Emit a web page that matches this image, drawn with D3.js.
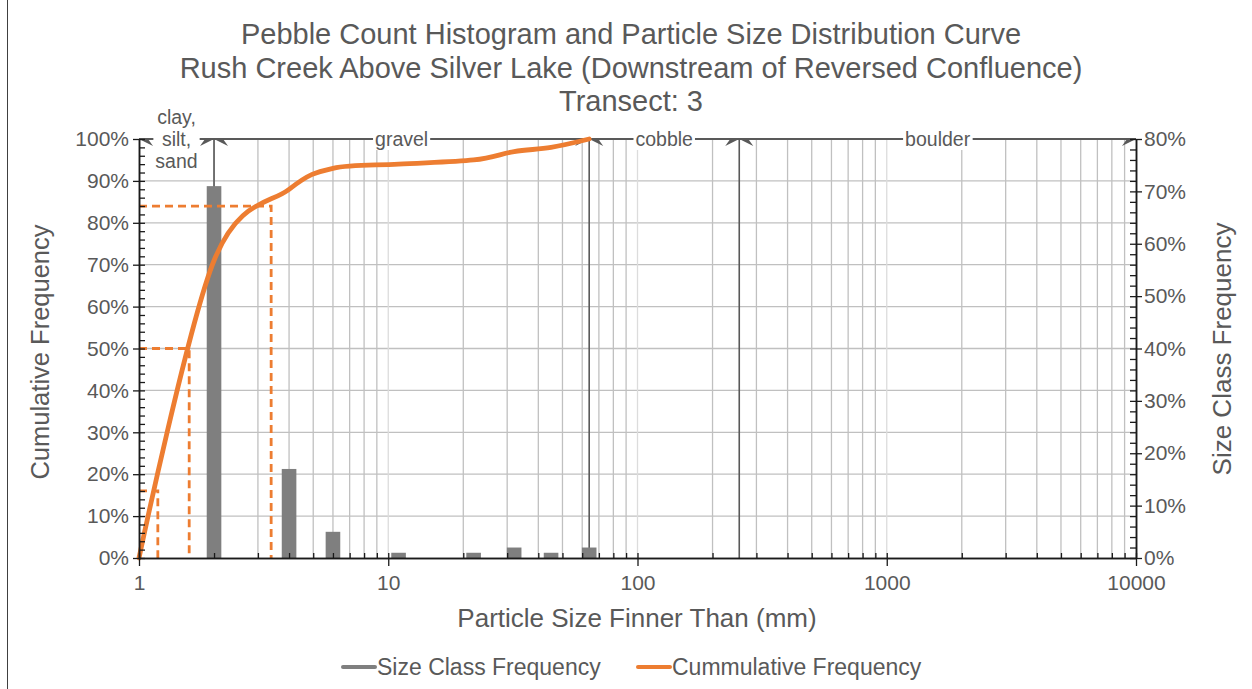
<!DOCTYPE html>
<html><head><meta charset="utf-8">
<script src="https://cdn.jsdelivr.net/npm/d3@7"></script>
<style>
body{margin:0;background:#fff}
svg{display:block;font-family:"Liberation Sans",Arial,sans-serif}
</style>
</head><body>
<svg id="chart" width="1252" height="689"></svg>
<script>
// ---- data ----
const titleLines = [
  "Pebble Count Histogram and Particle Size Distribution Curve",
  "Rush Creek Above Silver Lake (Downstream of Reversed Confluence)",
  "Transect: 3"
];
const sizeClasses = [2, 4, 6, 11, 22, 32, 45, 64];
const classFreq   = [0.71, 0.17, 0.05, 0.01, 0.01, 0.02, 0.01, 0.02];
const cumSizes    = [1, 2, 4, 6, 11, 22, 32, 45, 64];
const cumFreq     = [0, 0.71, 0.88, 0.93, 0.94, 0.95, 0.97, 0.98, 1.00];
const dPercent    = [0.16, 0.50, 0.84];
const dSize       = [1.19, 1.59, 3.39];
const classBounds = [1, 2, 64, 256, 10000];
const classNames  = [["clay,", "silt,", "sand"], ["gravel"], ["cobble"], ["boulder"]];
const xTickValues = [1, 10, 100, 1000, 10000];
const leftTickValues  = [0,0.1,0.2,0.3,0.4,0.5,0.6,0.7,0.8,0.9,1.0];
const rightTickValues = [0,0.1,0.2,0.3,0.4,0.5,0.6,0.7,0.8];
const legendNames = ["Size Class Frequency", "Cummulative Frequency"];
const xTitle = "Particle Size Finner Than (mm)";
const yLeftTitle = "Cumulative Frequency";
const yRightTitle = "Size Class Frequency";

// ---- layout ----
const L = 139, R = 1136, T = 139, B = 558;
const textCol = "#595959", orange = "#ED7D31", barCol = "#7f7f7f";
const svg = d3.select("#chart");

const x = d3.scaleLog().domain([1, 10000]).range([L, R]);
const yL = d3.scaleLinear().domain([0, 1]).range([B, T]);
const yR = d3.scaleLinear().domain([0, 0.8]).range([B, T]);

// border
svg.append("line").attr("x1", 7.5).attr("x2", 7.5).attr("y1", 0).attr("y2", 689)
  .attr("stroke", "#404040").attr("stroke-width", 1);

// title
svg.append("g").selectAll("text").data(titleLines).join("text")
  .attr("x", 631).attr("y", (d, i) => 44 + i * 33.5)
  .attr("text-anchor", "middle").attr("font-size", 29).attr("fill", textCol)
  .text(d => d);

// minor values for log grid
const minorVals = [];
for (let e = 0; e < 4; e++) for (let m = 1; m <= 9; m++) minorVals.push(m * Math.pow(10, e));
minorVals.push(10000);

// gridlines
const grid = svg.append("g");
grid.selectAll("line.h").data(leftTickValues.filter(v => v > 0 && v < 1)).join("line")
  .attr("x1", L).attr("x2", R).attr("y1", d => yL(d)).attr("y2", d => yL(d))
  .attr("stroke", "#c0c0c0").attr("stroke-width", 1.3);
grid.selectAll("line.v").data(minorVals.filter(v => v > 1 && v < 10000)).join("line")
  .attr("x1", d => x(d)).attr("x2", d => x(d)).attr("y1", T).attr("y2", B)
  .attr("stroke", d => xTickValues.includes(d) ? "#dcdcdc" : "#c0c0c0")
  .attr("stroke-width", 1.3);

// class dividers
svg.append("g").selectAll("line").data(classBounds.slice(1, -1)).join("line")
  .attr("x1", d => x(d)).attr("x2", d => x(d)).attr("y1", T).attr("y2", B)
  .attr("stroke", "#595959").attr("stroke-width", 1.6);

// bars
const bars = sizeClasses.map((s, i) => ({ s, v: classFreq[i] }));
svg.append("g").selectAll("rect").data(bars).join("rect")
  .attr("x", d => x(d.s) - 7.3).attr("width", 14.6)
  .attr("y", d => yR(d.v)).attr("height", d => B - yR(d.v))
  .attr("fill", barCol);

// top class line with arrows
const topG = svg.append("g");
topG.append("line").attr("x1", L).attr("x2", R).attr("y1", T).attr("y2", T)
  .attr("stroke", "#595959").attr("stroke-width", 1.8);
const arrowPts = [];
for (let i = 0; i < classBounds.length - 1; i++) {
  arrowPts.push({ x: x(classBounds[i]), dir: 1 });
  arrowPts.push({ x: x(classBounds[i + 1]), dir: -1 });
}
topG.selectAll("path").data(arrowPts).join("path")
  .attr("d", d => `M${d.x},${T} L${d.x + d.dir * 14},${T + 7} L${d.x + d.dir * 9},${T} Z`)
  .attr("fill", "#595959");

// class labels with white background
classNames.forEach((lines, i) => {
  const cx = x(Math.sqrt(classBounds[i] * classBounds[i + 1]));
  const g = svg.append("g");
  const lh = 21.6;
  const t = g.append("text").attr("text-anchor", "middle").attr("font-size", 19.5)
    .attr("fill", textCol);
  lines.forEach((ln, k) => {
    t.append("tspan").attr("x", cx)
      .attr("y", T + (k - (lines.length - 1) / 2) * lh + 7)
      .text(ln);
  });
  const bb = t.node().getBBox();
  g.insert("rect", "text").attr("x", bb.x - 2).attr("y", bb.y).attr("width", bb.width + 4)
    .attr("height", bb.height).attr("fill", "#fff");
});

// dashed D-lines
svg.append("g").selectAll("path").data(dPercent.map((p, i) => ({ p, s: dSize[i] }))).join("path")
  .attr("d", d => `M${x(1)},${yL(d.p)} H${x(d.s)} V${yL(0)}`)
  .attr("fill", "none").attr("stroke", orange).attr("stroke-width", 2.8)
  .attr("stroke-dasharray", "8,5");

// cumulative curve
const cumData = cumSizes.map((s, i) => ({ s, c: cumFreq[i] }));
svg.append("path").datum(cumData)
  .attr("d", d3.line().x(d => x(d.s)).y(d => yL(d.c)).curve(d3.curveCatmullRom.alpha(0)))
  .attr("fill", "none").attr("stroke", orange).attr("stroke-width", 4.8)
  .attr("stroke-linecap", "round").attr("stroke-linejoin", "round");

// axes
function styleAxis(g) {
  g.select(".domain").attr("stroke", "#1a1a1a").attr("stroke-width", 1.5);
  g.selectAll(".tick line").attr("stroke", "#1a1a1a").attr("stroke-width", 1.3);
  g.selectAll(".tick text").attr("fill", textCol).attr("font-size", 21)
    .attr("font-family", '"Liberation Sans",Arial,sans-serif');
}
const leftMinor = d3.range(0, 51).map(i => i * 0.02);
const rightMinor = d3.range(0, 41).map(i => i * 0.02);

// left axis
svg.append("g").attr("transform", `translate(${L},0)`)
  .call(d3.axisRight(yL).tickValues(leftMinor).tickSize(6).tickFormat("").tickSizeOuter(0))
  .call(styleAxis);
svg.append("g").attr("transform", `translate(${L},0)`)
  .call(d3.axisLeft(yL).tickValues(leftTickValues).tickSize(6).tickSizeOuter(0)
    .tickPadding(4).tickFormat(d3.format(".0%")))
  .call(styleAxis);

// right axis
svg.append("g").attr("transform", `translate(${R},0)`)
  .call(d3.axisLeft(yR).tickValues(rightMinor).tickSize(6).tickFormat("").tickSizeOuter(0))
  .call(styleAxis);
svg.append("g").attr("transform", `translate(${R},0)`)
  .call(d3.axisRight(yR).tickValues(rightTickValues).tickSize(6).tickSizeOuter(0)
    .tickPadding(2).tickFormat(d3.format(".0%")))
  .call(styleAxis);

// bottom axis
svg.append("g").attr("transform", `translate(0,${B})`)
  .call(d3.axisTop(x).tickValues(minorVals).tickSize(5).tickFormat("").tickSizeOuter(0))
  .call(styleAxis);
svg.append("g").attr("transform", `translate(0,${B})`)
  .call(d3.axisBottom(x).tickValues(xTickValues).tickSize(8).tickSizeOuter(0)
    .tickPadding(9).tickFormat(d3.format("d")))
  .call(styleAxis);

// axis titles
svg.append("text").attr("x", 637).attr("y", 627).attr("text-anchor", "middle")
  .attr("font-size", 26).attr("fill", textCol).text(xTitle);
svg.append("text").attr("transform", "translate(49,352) rotate(-90)")
  .attr("text-anchor", "middle").attr("font-size", 25.5).attr("fill", textCol).text(yLeftTitle);
svg.append("text").attr("transform", "translate(1231,349) rotate(-90)")
  .attr("text-anchor", "middle").attr("font-size", 26).attr("fill", textCol).text(yRightTitle);

// legend
const legendCols = [barCol, orange];
const legendX = [343, 638];
const lg = svg.append("g");
legendNames.forEach((n, i) => {
  lg.append("line").attr("x1", legendX[i]).attr("x2", legendX[i] + 32)
    .attr("y1", 667).attr("y2", 667).attr("stroke", legendCols[i]).attr("stroke-width", 4)
    .attr("stroke-linecap", "round");
  lg.append("text").attr("x", legendX[i] + 34).attr("y", 675)
    .attr("font-size", 23).attr("fill", textCol).text(n);
});
</script>
</body></html>
